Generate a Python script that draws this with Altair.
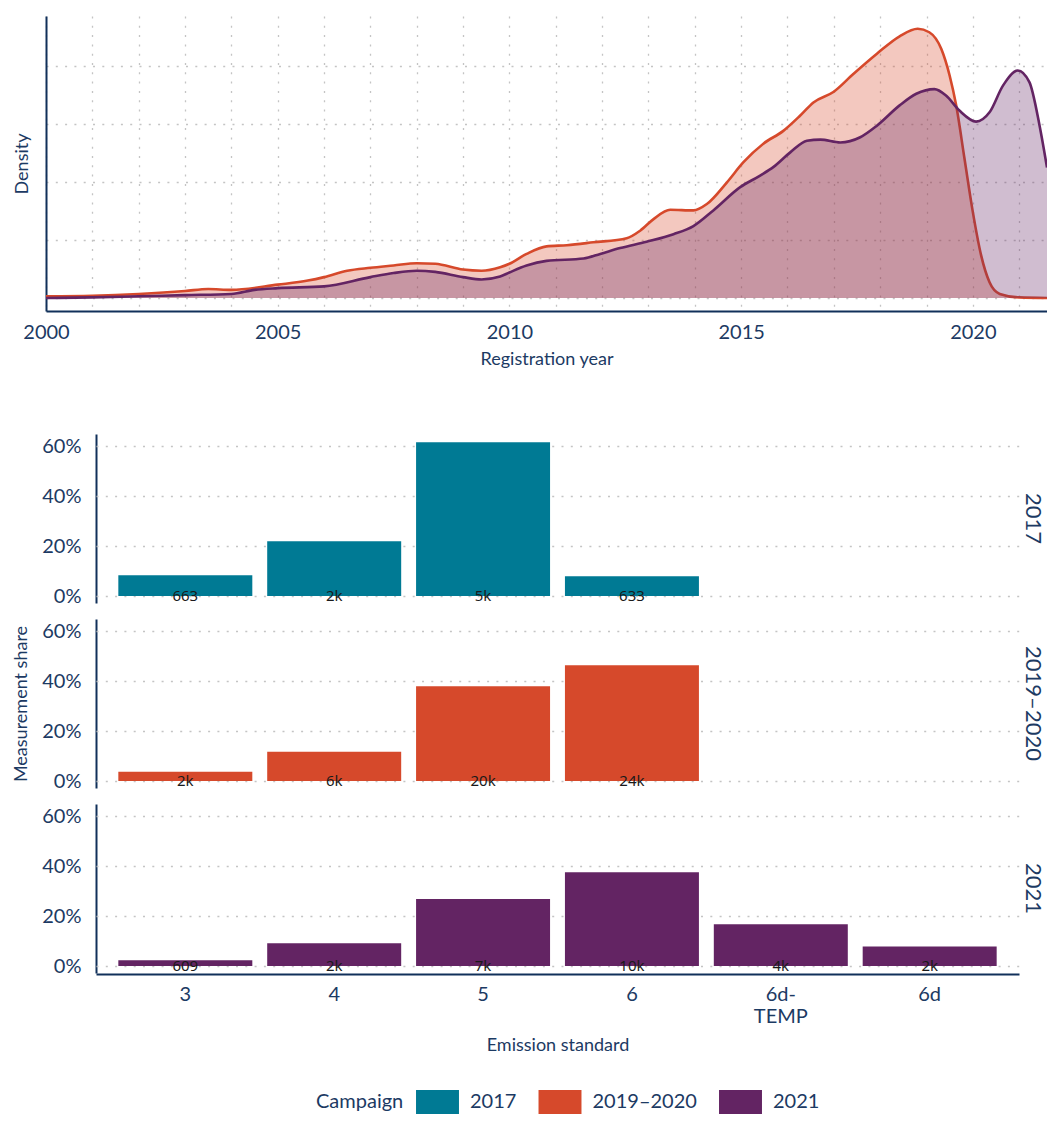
import altair as alt
import pandas as pd

NAVY = "#1c3a63"
AXIS = "#11305a"

campaigns = ["2017", "2019–2020", "2021"]
campaign_colors = ["#007a94", "#d6492b", "#632463"]

# ---- Top panel: density of registration year (gridline step = 0.05) ----
years_1920 = [2000.0, 2001.0, 2002.0, 2003.0, 2003.5, 2004.0, 2005.0, 2005.65, 2006.0, 2006.5,
              2007.0, 2007.5, 2008.0, 2008.4, 2009.0, 2009.4, 2009.8, 2010.0, 2010.37, 2010.8,
              2011.24, 2011.81, 2012.53, 2012.82, 2013.11, 2013.47, 2013.97, 2014.26, 2014.69,
              2015.05, 2015.48, 2015.91, 2016.27, 2016.56, 2016.99, 2017.42, 2017.93, 2018.42,
              2018.81, 2019.06, 2019.32, 2019.5, 2019.64, 2019.82, 2020.0, 2020.18, 2020.36,
              2020.58, 2021.0, 2021.6]
dens_1920 = [0.03, 0.04, 0.07, 0.12, 0.155, 0.14, 0.23, 0.30, 0.36, 0.47,
             0.52, 0.56, 0.60, 0.59, 0.49, 0.47, 0.53, 0.59, 0.76, 0.89,
             0.91, 0.96, 1.03, 1.16, 1.36, 1.52, 1.51, 1.62, 1.99,
             2.34, 2.66, 2.88, 3.14, 3.37, 3.55, 3.86, 4.21, 4.51,
             4.64, 4.58, 4.29, 3.83, 3.32, 2.40, 1.48, 0.73, 0.27,
             0.07, 0.01, 0.0]

years_2021 = [2000.0, 2001.0, 2002.0, 2003.0, 2004.0, 2004.5, 2005.0, 2006.0, 2007.0, 2007.5,
              2008.0, 2008.4, 2009.0, 2009.4, 2009.8, 2010.0, 2010.37, 2010.8, 2011.6, 2011.96,
              2012.39, 2012.96, 2013.54, 2013.97, 2014.4, 2014.98, 2015.41, 2015.7, 2016.06,
              2016.42, 2016.71, 2017.14, 2017.57, 2017.93, 2018.42, 2018.78, 2019.17, 2019.42,
              2019.71, 2020.07, 2020.36, 2020.65, 2020.97, 2021.22, 2021.44, 2021.6]
dens_2021 = [0.0, 0.01, 0.03, 0.05, 0.07, 0.14, 0.17, 0.20, 0.36, 0.43,
             0.47, 0.45, 0.36, 0.32, 0.37, 0.44, 0.56, 0.64, 0.68, 0.76,
             0.86, 0.97, 1.10, 1.24, 1.51, 1.91, 2.11, 2.26, 2.51,
             2.71, 2.73, 2.68, 2.77, 2.97, 3.32, 3.52, 3.60, 3.49,
             3.23, 3.04, 3.20, 3.66, 3.92, 3.72, 2.97, 2.25]

UNIT = 0.05

# ---- Bottom panels: emission standard shares ----
standards = ["3", "4", "5", "6", "6d-TEMP", "6d"]
share_2017 = [0.083, 0.219, 0.615, 0.079]
count_2017 = ["663", "2k", "5k", "633"]
share_1920 = [0.037, 0.117, 0.379, 0.463]
count_1920 = ["2k", "6k", "20k", "24k"]
share_2021 = [0.023, 0.091, 0.268, 0.375, 0.167, 0.078]
count_2021 = ["609", "2k", "7k", "10k", "4k", "2k"]

dens_series = {
    "2019–2020": (years_1920, dens_1920),
    "2021": (years_2021, dens_2021),
}

bar_rows = []
for c, sh, cn in [("2017", share_2017, count_2017), ("2019–2020", share_1920, count_1920),
                  ("2021", share_2021, count_2021)]:
    for s, v, n in zip(standards, sh, cn):
        bar_rows.append({"Campaign": c, "Standard": s, "Share": v, "Count": n})
bar_df = pd.DataFrame(bar_rows)

color_of = dict(zip(campaigns, campaign_colors))
color_scale = alt.Scale(domain=campaigns, range=campaign_colors)

grid_dash = [2, 7.3]

x_top = alt.X(
    "Year:Q",
    scale=alt.Scale(domain=[2000, 2021.6], nice=False, zero=False),
    axis=alt.Axis(values=list(range(2000, 2022)), format="d",
                  labelExpr="datum.value % 5 == 0 ? datum.label : ''",
                  labelFlush=False, labelPadding=11, titlePadding=8, grid=True),
    title="Registration year",
)
y_top = alt.Y(
    "Density:Q", stack=None,
    scale=alt.Scale(domain=[-0.224 * UNIT, 4.86 * UNIT], nice=False, zero=False),
    axis=alt.Axis(values=[0, UNIT, 2 * UNIT, 3 * UNIT, 4 * UNIT], labels=False, ticks=False,
                  titlePadding=15, grid=True),
    title="Density",
)

top_layers = []
for c in ["2019–2020", "2021"]:
    ys, ds = dens_series[c]
    df = pd.DataFrame({"Year": ys, "Density": [d * UNIT for d in ds]})
    base = alt.Chart(df)
    top_layers.append(
        base.mark_area(color=color_of[c], fillOpacity=0.3, interpolate="monotone",
                       clip=True).encode(x=x_top, y=y_top, y2=alt.datum(0))
    )
    top_layers.append(
        base.mark_line(color=color_of[c], strokeWidth=2.6, interpolate="monotone",
                       clip=True).encode(x=x_top, y=y_top)
    )

top = alt.layer(*top_layers).properties(width=1001, height=295)

x_bot = alt.X(
    "Standard:N", sort=standards,
    scale=alt.Scale(domain=standards, range=[50, 973], paddingInner=0.1, paddingOuter=0.15),
    axis=alt.Axis(labelAngle=0, grid=False, labelPadding=10, titlePadding=10,
                  labelLineHeight=22,
                  labelExpr="datum.value == '6d-TEMP' ? ['6d-', 'TEMP'] : datum.label"),
    title="Emission standard",
)
y_scale_bot = alt.Scale(domain=[-0.028, 0.648], nice=False, zero=False)

bars = alt.Chart().mark_bar().encode(
    x=x_bot,
    y=alt.Y("Share:Q", scale=y_scale_bot,
            axis=alt.Axis(values=[0, 0.2, 0.4, 0.6], format=".0%", labelPadding=15,
                          offset=-50, grid=True),
            title=None),
    y2=alt.datum(0),
    color=alt.Color(
        "Campaign:N", scale=color_scale,
        legend=alt.Legend(
            title="Campaign", orient="none", legendX=270, legendY=1074,
            direction="horizontal", titleOrient="left",
            symbolType="M-1.79,-1L1.79,-1L1.79,1L-1.79,1Z", symbolSize=576,
            symbolStrokeWidth=0, symbolOpacity=1,
            labelOffset=20.5, columnPadding=21.5, titlePadding=21.5,
            labelFontSize=20, titleFontSize=20, titleFontWeight="normal",
            labelColor=NAVY, titleColor=NAVY, padding=0,
        ),
    ),
)
labels = alt.Chart().mark_text(font="Noto Sans", fontSize=15, color="#1a1a1a",
                               baseline="middle").encode(
    x=x_bot, y=alt.datum(0), text="Count:N",
)

bottom = alt.layer(bars, labels, data=bar_df).properties(width=973, height=169).facet(
    row=alt.Row("Campaign:N", sort=campaigns, title="Measurement share",
                header=alt.Header(labelOrient="right", labelAngle=90, labelFontSize=22,
                                  labelColor=NAVY, labelFont="Lato", labelPadding=2,
                                  labelAlign="center", labelBaseline="top",
                                  titleOrient="left", titleFont="Lato", titleFontSize=18,
                                  titleColor=NAVY, titleFontWeight="normal",
                                  titlePadding=0)),
    spacing=15,
)

chart = alt.vconcat(top, bottom, spacing=66).properties(
    padding={"left": 4, "top": 8, "right": 0, "bottom": 0}
).configure(
    font="Lato", background="white",
).configure_view(
    stroke=None,
).configure_axis(
    domainColor=AXIS, domainWidth=2, labelColor=NAVY, titleColor=NAVY,
    labelFont="Lato", titleFont="Lato", labelFontSize=20, titleFontSize=18,
    titleFontWeight="normal", ticks=False,
    gridColor="#c4c4c4", gridDash=grid_dash, gridWidth=1.3,
).configure_legend(
    labelFont="Lato", titleFont="Lato",
)

chart.save("out.html", embed_options={"renderer": "svg", "actions": False})
